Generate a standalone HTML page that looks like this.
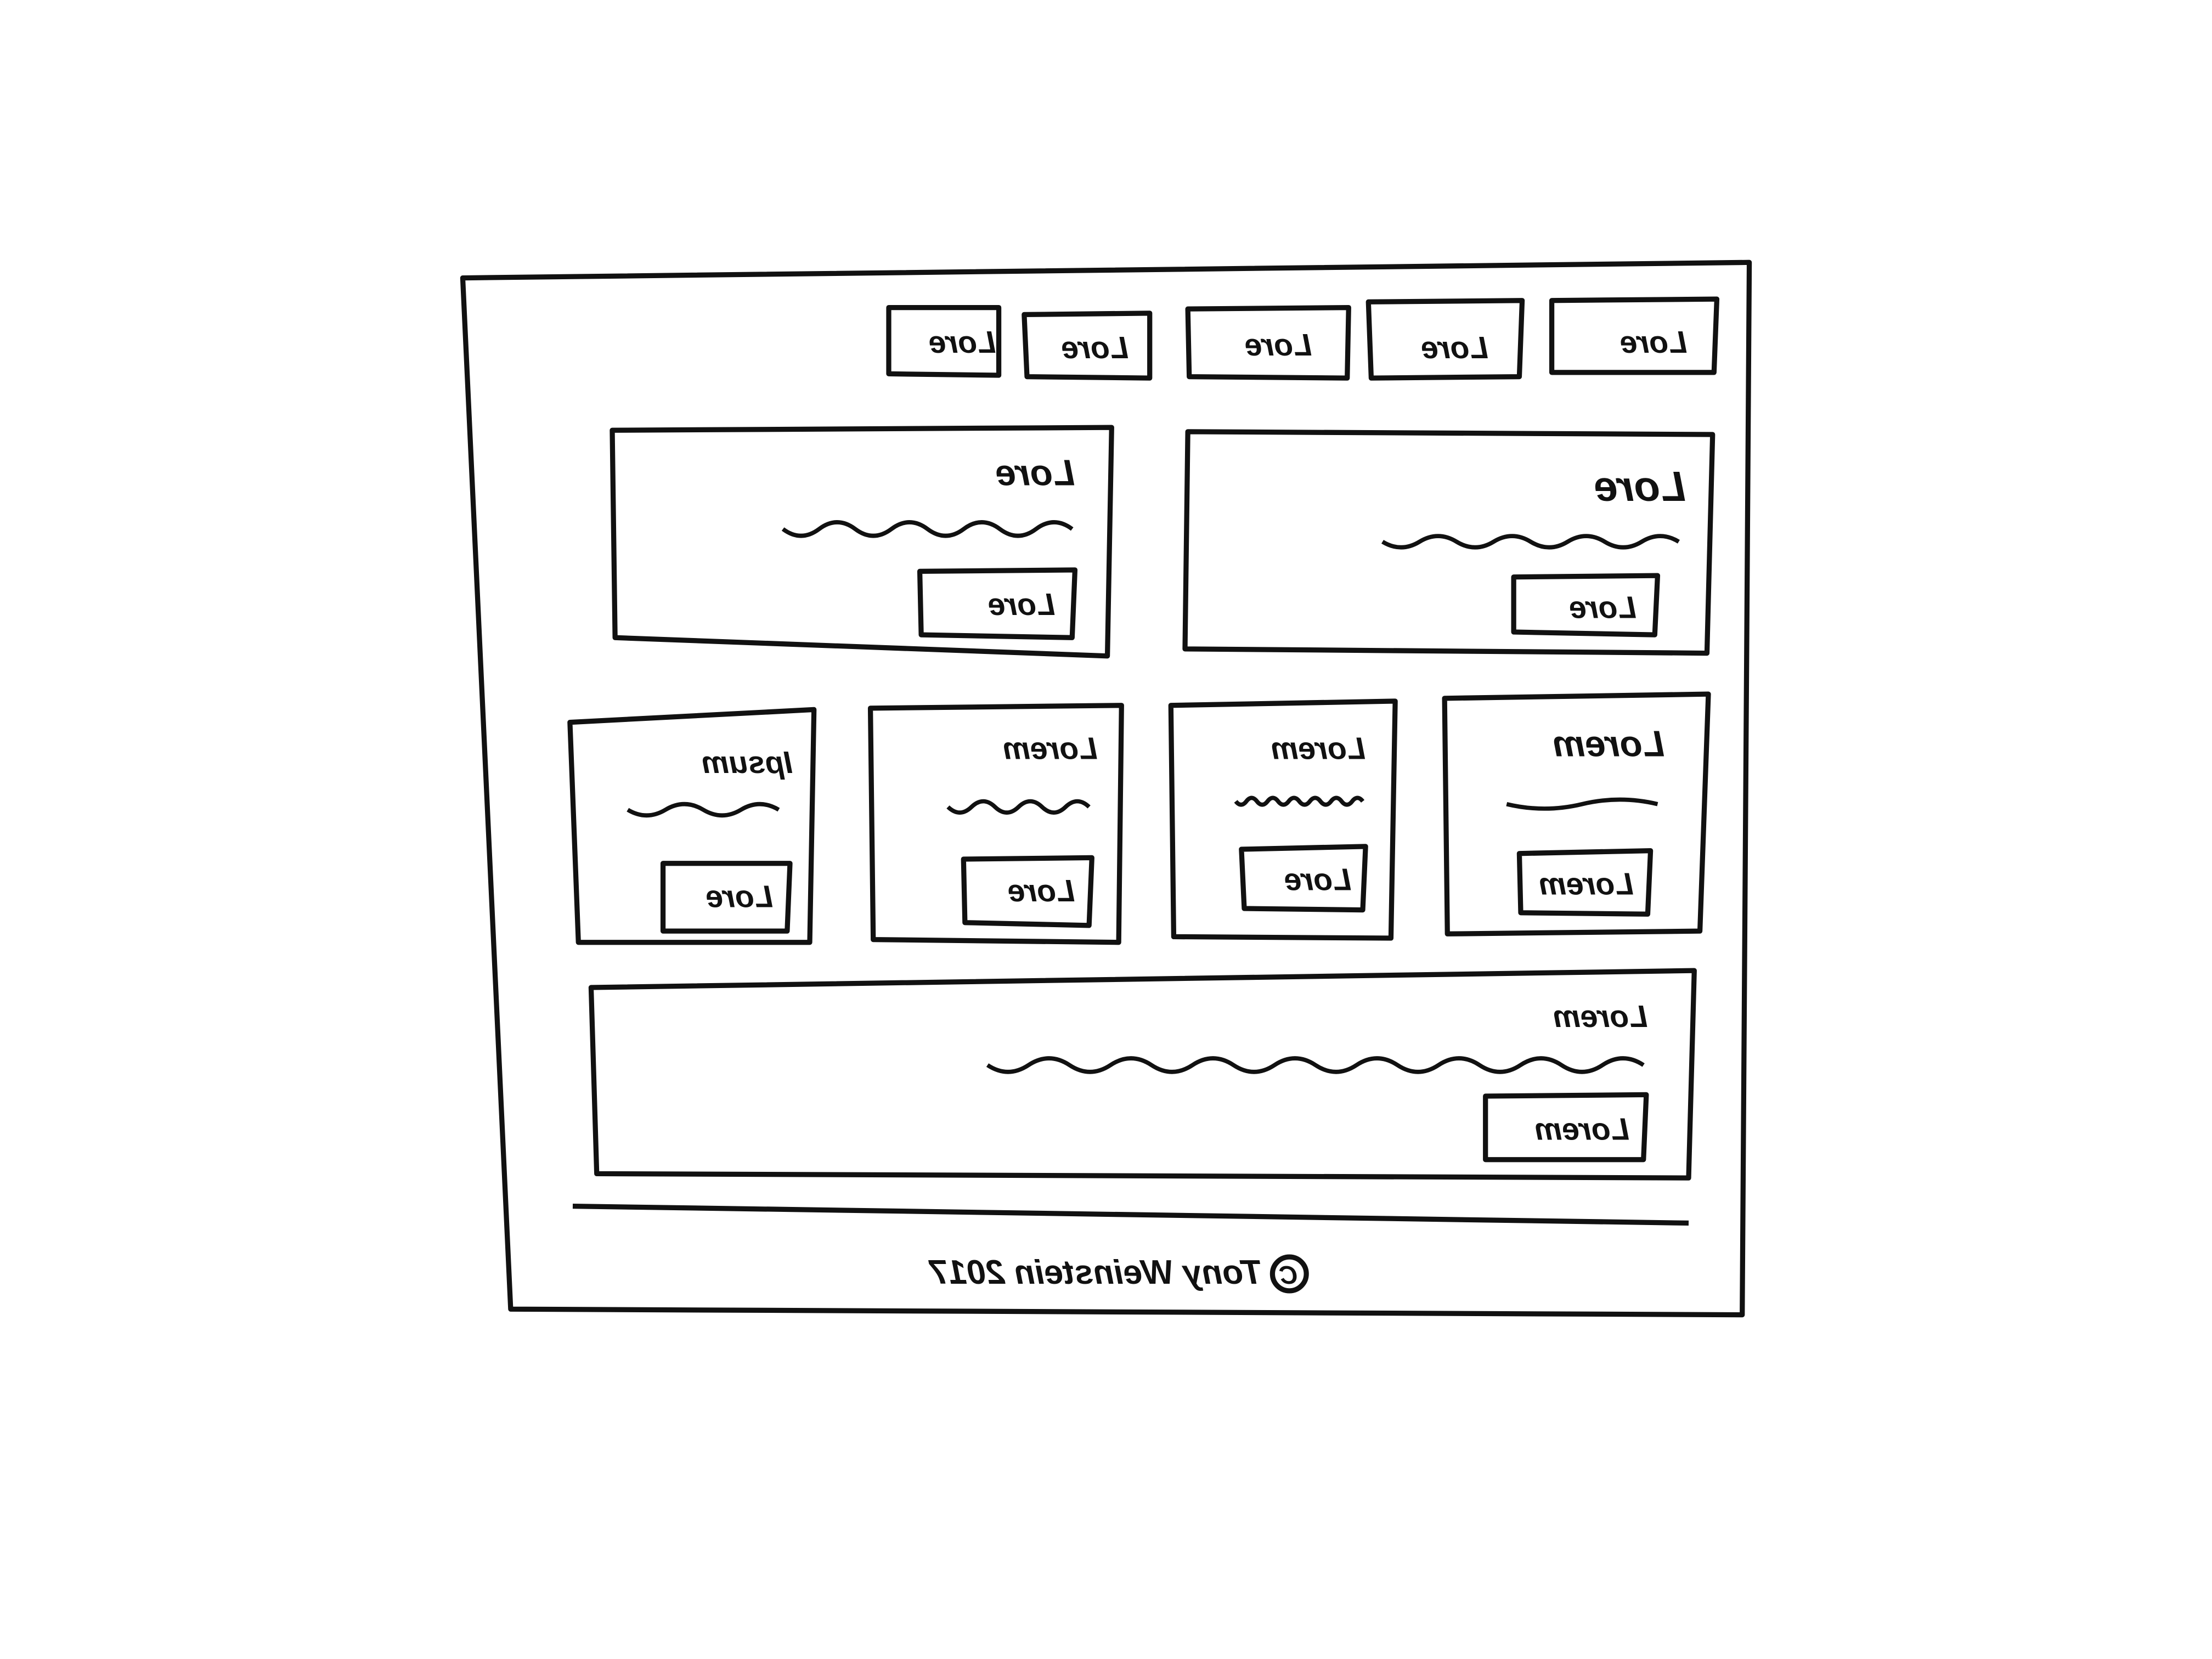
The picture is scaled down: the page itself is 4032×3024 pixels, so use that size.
<!DOCTYPE html>
<html><head><meta charset="utf-8"><style>
html,body{margin:0;padding:0;background:#fff;}
svg{display:block;}
text{font-family:"Liberation Sans",sans-serif;fill:#111;font-style:italic;font-weight:bold;}
</style></head><body>
<svg id="s" width="4032" height="3024" viewBox="0 0 1568 1176" xmlns="http://www.w3.org/2000/svg">
<rect width="1568" height="1176" fill="#ffffff"/>
<g fill="none" stroke="#111" stroke-width="3.6" stroke-linejoin="round">
<polygon points="328,197 1240,186 1235,932 362,928"/>
<polygon points="630,218 708,218 708,266 630,265"/>
<polygon points="726,223 815,222 815,268 728,267"/>
<polygon points="842,219 956,218 955,268 843,267"/>
<polygon points="970,214 1079,213 1077,267 972,268"/>
<polygon points="1100,213 1217,212 1215,264 1100,264"/>
<polygon points="434,305 788,303 785,465 436,452"/>
<polygon points="842,306 1214,308 1210,463 840,460"/>
<polygon points="652,405 762,404 760,452 653,450"/>
<polygon points="1073,409 1175,408 1173,450 1073,448"/>
<polygon points="404,512 577,503 574,668 410,668"/>
<polygon points="617,502 795,500 793,668 619,666"/>
<polygon points="830,500 989,497 986,665 832,664"/>
<polygon points="1024,495 1211,492 1205,660 1026,662"/>
<polygon points="470,612 560,612 558,660 470,660"/>
<polygon points="683,609 774,608 772,656 684,654"/>
<polygon points="880,602 968,600 966,645 882,644"/>
<polygon points="1077,605 1170,603 1168,648 1078,647"/>
<polygon points="419,700 1201,688 1197,835 423,832"/>
<polygon points="1053,777 1167,776 1165,822 1053,822"/>
<path d="M406,855 L1197,867"/>
<circle cx="914" cy="903" r="12"/>
</g>
<g id="txt" font-size="22">
<text transform="translate(706,250) scale(-1,1)">Lore</text>
<text transform="translate(800,254) scale(-1,1)">Lore</text>
<text transform="translate(930,252) scale(-1,1)">Lore</text>
<text transform="translate(1055,254) scale(-1,1)">Lore</text>
<text transform="translate(1196,250) scale(-1,1)">Lore</text>
<text font-size="26" transform="translate(762,344) scale(-1,1)">Lore</text>
<text font-size="30" transform="translate(1195,355) scale(-1,1)">Lore</text>
<text transform="translate(748,436) scale(-1,1)">Lore</text>
<text transform="translate(1160,438) scale(-1,1)">Lore</text>
<text transform="translate(562,548) scale(-1,1)">Ipsum</text>
<text transform="translate(778,538) scale(-1,1)">Lorem</text>
<text transform="translate(968,538) scale(-1,1)">Lorem</text>
<text font-size="26" transform="translate(1180,536) scale(-1,1)">Lorem</text>
<text transform="translate(548,643) scale(-1,1)">Lore</text>
<text transform="translate(762,639) scale(-1,1)">Lore</text>
<text transform="translate(958,631) scale(-1,1)">Lore</text>
<text transform="translate(1158,634) scale(-1,1)">Lorem</text>
<text transform="translate(1168,728) scale(-1,1)">Lorem</text>
<text transform="translate(1155,808) scale(-1,1)">Lorem</text>
<text font-size="24" transform="translate(895,910) scale(-1,1)">Tony Weinstein 2017</text>
<text font-size="18" transform="translate(920,910) scale(-1,1)">C</text>
</g>
</svg>
<script>
const squiggles=[
 {name:'large-card-left-squiggle',x0:555,x1:760,y:375,amp:6,waves:4},
 {name:'large-card-right-squiggle',x0:980,x1:1190,y:384,amp:5,waves:4},
 {name:'small-card-1-squiggle',x0:445,x1:552,y:574,amp:5,waves:2},
 {name:'small-card-2-squiggle',x0:672,x1:772,y:572,amp:5,waves:3},
 {name:'small-card-3-squiggle',x0:876,x1:966,y:568,amp:3,waves:6},
 {name:'small-card-4-squiggle',x0:1068,x1:1175,y:570,amp:4,waves:1},
 {name:'wide-card-squiggle',x0:700,x1:1165,y:755,amp:6,waves:8}
];
const svg=document.getElementById('s');
squiggles.forEach(q=>{
  let d='M'+q.x0+','+q.y;
  const step=(q.x1-q.x0)/(q.waves*2);
  for(let i=0;i<q.waves*2;i++){
    const xa=q.x0+step*i, xb=xa+step;
    d+=' Q'+(xa+step/2)+','+(q.y+(i%2?-q.amp:q.amp)*1.6)+' '+xb+','+q.y;
  }
  const p=document.createElementNS('http://www.w3.org/2000/svg','path');
  p.setAttribute('d',d);
  p.setAttribute('fill','none');
  p.setAttribute('stroke','#111');
  p.setAttribute('stroke-width','3');
  
  
  svg.appendChild(p);
});
</script>
</body></html>
